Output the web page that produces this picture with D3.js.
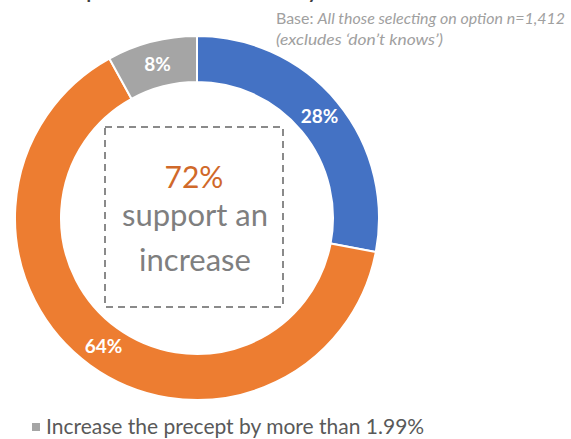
<!DOCTYPE html>
<html>
<head>
<meta charset="utf-8">
<script src="https://cdn.jsdelivr.net/npm/d3@7"></script>
<style>
  body { margin: 0; background: #fff; }
  svg { display: block; }
</style>
</head>
<body>
<svg width="571" height="439"></svg>
<script>
const categories = ["Do not increase the precept", "Increase the precept by 1.99%", "Increase the precept by more than 1.99%"];
const values = [28, 64, 8];
const colors = ["#4472C4", "#ED7D31", "#A5A5A5"];
const legendItems = ["Increase the precept by more than 1.99%"];
const headline = ["72%", "support an", "increase"];

const svg = d3.select("svg");
const font = "Lato, 'Open Sans', sans-serif";
const cx = 197, cy = 218;
const outerR = 182, innerR = 136;

// title, cut off above the picture
svg.append("text")
  .attr("x", 65).attr("y", -3)
  .attr("textLength", 255)
  .attr("font-family", font).attr("font-size", 26)
  .attr("fill", "#404040")
  .text("Opinion on the survey");

// base note
const base = svg.append("text")
  .attr("x", 276).attr("y", 24)
  .attr("textLength", 289)
  .attr("lengthAdjust", "spacingAndGlyphs")
  .attr("font-family", font).attr("font-size", 14.5)
  .attr("fill", "#a0a0a0");
base.append("tspan").text("Base: ");
base.append("tspan").attr("font-style", "italic").text("All those selecting on option n=1,412");
svg.append("text")
  .attr("x", 276).attr("y", 45)
  .attr("textLength", 167)
  .attr("lengthAdjust", "spacingAndGlyphs")
  .attr("font-family", font).attr("font-size", 14.5)
  .attr("font-style", "italic")
  .attr("fill", "#a0a0a0")
  .text("(excludes \u2018don\u2019t knows\u2019)");

const pie = d3.pie().sort(null).value(d => d);
const arc = d3.arc().innerRadius(innerR).outerRadius(outerR);
const arcs = pie(values);

const g = svg.append("g").attr("transform", `translate(${cx},${cy})`);
g.selectAll("path")
  .data(arcs)
  .join("path")
  .attr("d", arc)
  .attr("fill", (d, i) => colors[i])
  .attr("stroke", "#fff")
  .attr("stroke-width", 2);

g.selectAll("text.lbl")
  .data(arcs)
  .join("text")
  .attr("class", "lbl")
  .attr("transform", d => `translate(${arc.centroid(d)})`)
  .attr("text-anchor", "middle")
  .attr("dy", "0.36em")
  .attr("font-family", font).attr("font-size", 19).attr("font-weight", "bold")
  .attr("fill", "#fff")
  .text(d => d.data + "%");

// dashed box in the middle
svg.append("rect")
  .attr("x", 105).attr("y", 127)
  .attr("width", 178).attr("height", 180)
  .attr("fill", "none")
  .attr("stroke", "#8a8a8a")
  .attr("stroke-width", 2)
  .attr("stroke-dasharray", "7,5");

svg.append("text")
  .attr("x", 194).attr("y", 188)
  .attr("text-anchor", "middle")
  .attr("font-family", font).attr("font-size", 30)
  .attr("fill", "#D0692A")
  .text(headline[0]);
svg.selectAll("text.sub")
  .data(headline.slice(1))
  .join("text")
  .attr("class", "sub")
  .attr("x", 195)
  .attr("y", (d, i) => 226 + i * 45)
  .attr("text-anchor", "middle")
  .attr("font-family", font).attr("font-size", 31)
  .attr("fill", "#7f7f7f")
  .text(d => d);

// legend
const leg = svg.append("g").attr("transform", "translate(32,434)");
leg.append("rect")
  .attr("x", 0).attr("y", -11)
  .attr("width", 8).attr("height", 8)
  .attr("fill", colors[2]);
leg.append("text")
  .attr("x", 14).attr("y", 0)
  .attr("font-family", font).attr("font-size", 21)
  .attr("fill", "#595959")
  .text(legendItems[0]);
</script>
</body>
</html>
